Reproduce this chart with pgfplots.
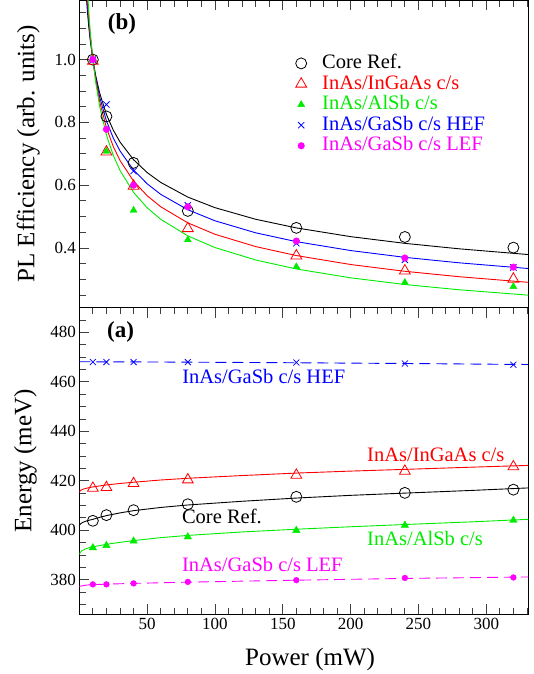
\documentclass[border=0pt]{standalone}
\usepackage{pgfplots}
\pgfplotsset{compat=1.18}
\usepackage{fontspec}
\setmainfont{Liberation Serif}
\definecolor{cgreen}{RGB}{0,235,0}
\definecolor{cmag}{RGB}{255,0,255}
\begin{document}
\begin{tikzpicture}
\pgfplotsset{
  every axis/.append style={
    scale only axis, width=449pt, xmin=0, xmax=331,
    axis line style={line width=1.3pt},
    tick style={line width=0.8pt, color=black!75},
    major tick length=10pt, minor tick length=6.5pt,
    xtick={50,100,...,300},
    minor xtick={10,20,30,40,60,70,80,90,110,120,130,140,160,170,180,190,210,220,230,240,260,270,280,290,310,320,330},
    ytick pos=left,
    tick align=inside,
    /pgf/number format/assume math mode=true,
    tick label style={font=\fontsize{17}{17}\selectfont},
  },
  fit/.style={line width=0.9pt, no markers},
  dsh/.style={line width=0.9pt, no markers, dash pattern=on 11pt off 6pt},
}
% ---------------- top panel (b)
\begin{axis}[
  at={(0pt,0pt)}, anchor=north west, height=307.3pt,
  ymin=0.21, ymax=1.189,
  xtick pos=right, xticklabels=\empty,
  ytick={0.4,0.6,0.8,1.0},
  minor ytick={0.25,0.3,0.35,0.45,0.5,0.55,0.65,0.7,0.75,0.85,0.9,0.95,1.05,1.1,1.15},
  yticklabel style={/pgf/number format/.cd,fixed,fixed zerofill,precision=1},
  every axis y label/.style={at={(axis description cs:-0.1136,0.5)}, rotate=90, anchor=center, font=\fontsize{25}{25}\selectfont},
  ylabel={PL Efficiency (arb. units)},
  legend style={draw=none, fill=none, at={(axis description cs:0.4815,0.824)}, anchor=north west,
    inner sep=0pt, font=\fontsize{20.5}{20.5}\selectfont,
    nodes={inner sep=0pt, text height=14pt, text depth=3.6pt},
    row sep=3pt, /tikz/every odd column/.append style={column sep=15.5pt}},
  legend cell align=left,
]
\addplot[fit, black, forget plot] coordinates {(5,1.2117)(6,1.1520)(7,1.1038)(8,1.0638)(10,1.0)(12,0.9508)(15,0.8938)(20,0.8253)(25,0.7758)(30,0.7376)(40,0.6811)(50,0.6403)(60,0.6088)(80,0.5621)(100,0.5284)(130,0.4914)(160,0.4639)(200,0.4361)(240,0.4147)(280,0.3973)(331,0.3790)};
\addplot[fit, blue, forget plot] coordinates {(5,1.2421)(6,1.1733)(7,1.1181)(8,1.0723)(10,1.0)(12,0.9446)(15,0.8809)(20,0.8051)(25,0.7508)(30,0.7092)(40,0.6482)(50,0.6045)(60,0.5709)(80,0.5218)(100,0.4866)(130,0.4483)(160,0.4201)(200,0.3918)(240,0.3701)(280,0.3527)(331,0.3345)};
\addplot[fit, red, forget plot] coordinates {(5,1.2772)(6,1.1976)(7,1.1342)(8,1.0820)(10,1.0)(12,0.9377)(15,0.8667)(20,0.7830)(25,0.7236)(30,0.6786)(40,0.6130)(50,0.5666)(60,0.5313)(80,0.4800)(100,0.4436)(130,0.4044)(160,0.3758)(200,0.3473)(240,0.3257)(280,0.3084)(331,0.2905)};
\addplot[fit, cgreen, forget plot] coordinates {(5,1.3163)(6,1.2245)(7,1.1519)(8,1.0925)(10,1.0)(12,0.9303)(15,0.8515)(20,0.7597)(25,0.6954)(30,0.6469)(40,0.5771)(50,0.5283)(60,0.4914)(80,0.4385)(100,0.4013)(130,0.3617)(160,0.3331)(200,0.3049)(240,0.2836)(280,0.2668)(331,0.2497)};
\addplot[only marks, mark=o, mark size=5.5pt, black, mark options={line width=0.8pt}] coordinates {(10,1.0)(20,0.819)(40,0.671)(80,0.518)(160,0.464)(240,0.435)(320,0.401)};
\addlegendentry{\textcolor{black}{Core Ref.}}
\addplot[only marks, mark=triangle, mark size=6.3pt, red, mark options={line width=0.8pt}] coordinates {(10,0.995)(20,0.706)(40,0.597)(80,0.462)(160,0.375)(240,0.327)(320,0.301)};
\addlegendentry{\textcolor{red}{InAs/InGaAs c/s}}
\addplot[only marks, mark=triangle*, mark size=4pt, cgreen] coordinates {(10,1.0)(20,0.708)(40,0.520)(80,0.426)(160,0.340)(240,0.290)(320,0.277)};
\addlegendentry{\textcolor{cgreen}{InAs/AlSb c/s}}
\addplot[only marks, mark=x, mark size=4.4pt, blue, mark options={line width=0.8pt}] coordinates {(10,1.0)(20,0.857)(40,0.645)(80,0.536)(160,0.415)(240,0.362)(320,0.338)};
\addlegendentry{\textcolor{blue}{InAs/GaSb c/s HEF}}
\addplot[only marks, mark=*, mark size=3.3pt, cmag] coordinates {(10,1.0)(20,0.778)(40,0.600)(80,0.531)(160,0.422)(240,0.368)(320,0.339)};
\addlegendentry{\textcolor{cmag}{InAs/GaSb c/s LEF}}
\node[font=\fontsize{23}{23}\selectfont\bfseries, inner sep=0pt] at (axis description cs:0.095,0.922) {(b)};
\end{axis}
% ---------------- bottom panel (a)
\begin{axis}[
  at={(0pt,-307.3pt)}, anchor=north west, height=306.7pt,
  ymin=366, ymax=490,
  xtick pos=both,
  ytick={380,400,...,480},
  minor ytick={370,375,385,390,395,405,410,415,425,430,435,445,450,455,465,470,475,485,490},
  every axis y label/.style={at={(axis description cs:-0.1198,0.5)}, rotate=90, anchor=center, font=\fontsize{25}{25}\selectfont},
  ylabel={Energy (meV)},
  every axis x label/.style={at={(axis description cs:0.514,-0.1663)}, anchor=base, font=\fontsize{25}{25}\selectfont},
  xlabel={Power (mW)},
]
\addplot[fit, black] coordinates {(0,402.0)(1,402.6)(2,403.0)(4,403.5)(7,404.0)(10,404.4)(15,405.2)(20,405.9)(30,407.0)(40,407.9)(60,409.2)(80,410.2)(120,411.7)(160,413.0)(200,414.1)(240,415.0)(290,416.1)(331,417.1)};
\addplot[fit, red] coordinates {(0,415.4)(1,416.1)(2,416.4)(4,416.8)(7,417.2)(10,417.5)(15,417.9)(20,418.3)(30,418.9)(40,419.4)(60,420.3)(80,421.0)(120,422.1)(160,423.1)(200,423.9)(240,424.6)(290,425.5)(331,426.2)};
\addplot[fit, cgreen] coordinates {(0,390.3)(1,391.2)(2,391.7)(4,392.3)(7,392.9)(10,393.3)(15,393.8)(20,394.3)(30,395.1)(40,395.8)(60,397.0)(80,397.9)(120,399.3)(160,400.4)(200,401.4)(240,402.3)(290,403.4)(331,404.4)};
\addplot[dsh, blue] coordinates {(0,468.1)(40,468.05)(80,467.95)(160,467.7)(240,467.4)(331,467.0)};
\addplot[dsh, cmag] coordinates {(0,377.3)(5,377.8)(10,378.0)(20,378.2)(40,378.5)(80,379.0)(160,379.8)(240,380.5)(331,381.1)};
\addplot[only marks, mark=o, mark size=5.5pt, black, mark options={line width=0.8pt}] coordinates {(10,403.8)(20,406.1)(40,408.1)(80,410.5)(160,413.5)(240,415.1)(320,416.4)};
\addplot[only marks, mark=triangle, mark size=6.2pt, red, mark options={line width=0.8pt}] coordinates {(10,417.0)(20,417.3)(40,418.9)(80,420.4)(160,422.3)(240,423.9)(320,425.7)};
\addplot[only marks, mark=triangle*, mark size=4.3pt, cgreen] coordinates {(10,392.9)(20,393.8)(40,395.6)(80,397.3)(160,399.9)(240,402.0)(320,404.0)};
\addplot[only marks, mark=x, mark size=4.2pt, blue, mark options={line width=0.8pt}] coordinates {(10,468.0)(20,468.0)(40,468.0)(80,468.0)(160,467.8)(240,467.4)(320,466.9)};
\addplot[only marks, mark=*, mark size=2.9pt, cmag] coordinates {(10,378.1)(20,378.1)(40,378.5)(80,379.1)(160,379.8)(240,380.7)(320,380.9)};
\begin{scope}[every node/.style={inner sep=0pt, anchor=base west, font=\fontsize{20.5}{20.5}\selectfont}]
\node[text=blue] at (axis cs:75.8,459.3) {InAs/GaSb c/s HEF};
\node[text=red] at (axis cs:212.1,427.9) {InAs/InGaAs c/s};
\node[text=black] at (axis cs:75.6,402.9) {Core Ref.};
\node[text=cgreen] at (axis cs:212.1,393.7) {InAs/AlSb c/s};
\node[text=cmag] at (axis cs:75.6,383.2) {InAs/GaSb c/s LEF};
\end{scope}
\node[font=\fontsize{23}{23}\selectfont\bfseries, inner sep=0pt] at (axis description cs:0.092,0.920) {(a)};
\end{axis}
\pgfresetboundingbox
\path[use as bounding box] (-79.3pt,0.3pt) rectangle (453.7pt,-673.7pt);
\end{tikzpicture}
\end{document}
